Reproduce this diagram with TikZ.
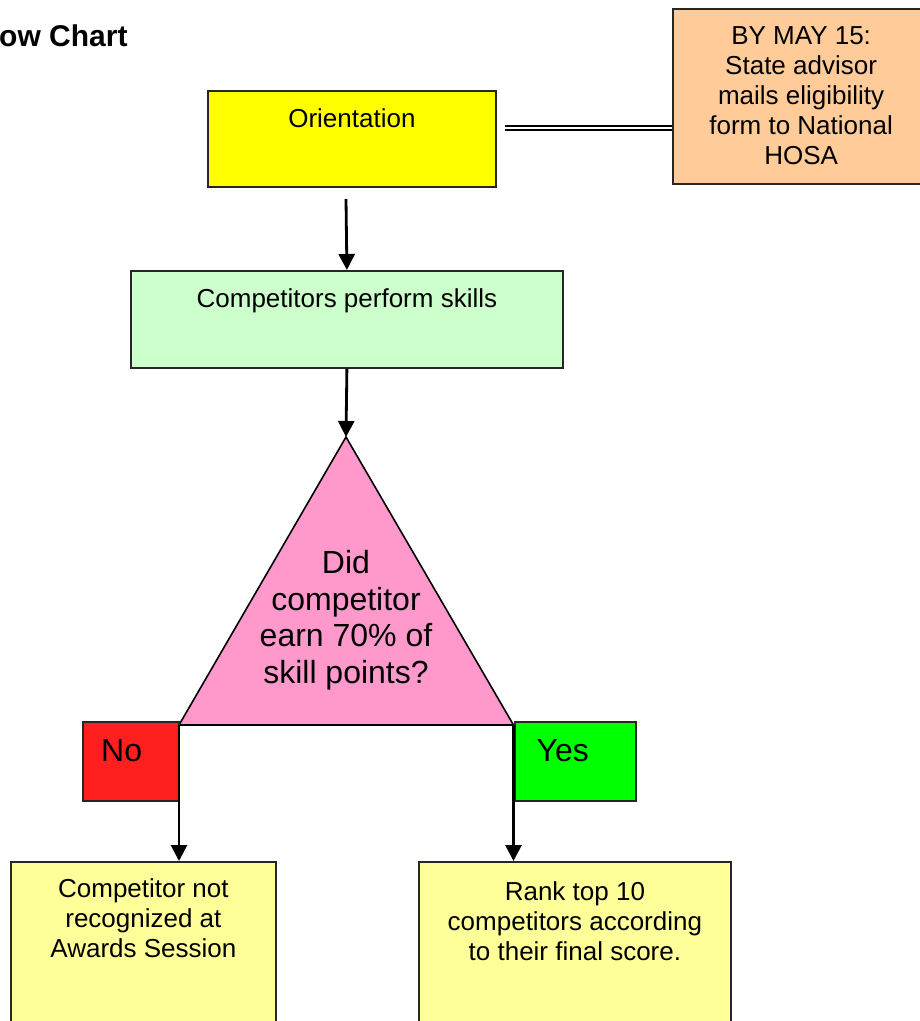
\documentclass[tikz,border=0pt]{standalone}
\usepackage{fontspec}
\setmainfont{Liberation Sans}
\usetikzlibrary{arrows.meta,positioning}
\definecolor{orientCol}{HTML}{FFFF00}
\definecolor{dateCol}{HTML}{FFCC99}
\definecolor{skillCol}{HTML}{CCFFCC}
\definecolor{askCol}{HTML}{FF99CC}
\definecolor{noCol}{HTML}{FF1F1F}
\definecolor{yesCol}{HTML}{00FF00}
\definecolor{endCol}{HTML}{FFFF99}
\newcommand{\txtfont}{\fontsize{26}{30}\selectfont}
\newcommand{\askfont}{\fontsize{32}{36.5}\selectfont}
\tikzset{
  box/.style={draw=black!85, line width=1.8pt, inner sep=0pt, anchor=north west},
  boxtxt/.style={anchor=north, inner sep=0pt, align=center, font=\txtfont, yshift=-#1},
  flagtxt/.style={anchor=north west, inner sep=0pt, font=\askfont, xshift=#1, yshift=-18pt},
  flow/.style={-{Triangle[length=16pt,width=16pt]}, line width=2.8pt},
  link/.style={double=white, double distance=2pt, line width=2.2pt},
}

\begin{document}
\begin{tikzpicture}[x=1pt,y=-1pt]
  \clip (0,0) rectangle (920,1021);
  \node[anchor=base west, inner sep=0pt, font=\fontsize{30}{34}\selectfont\bfseries] (title) at (-1,46.5) {ow Chart};

  % top row
  \node[box, fill=orientCol, minimum width=288pt, minimum height=96pt,
        label={[boxtxt=18pt]north:Orientation}] (orient) at (207,90) {};
  \node[box, fill=dateCol, line width=2.2pt, minimum width=256pt, minimum height=175pt,
        label={[boxtxt=18.5pt]north:{BY MAY 15:\\State advisor\\mails eligibility\\form to National\\HOSA}}] (deadline) at (672,8) {};
  \coordinate (lk) at (505,128);
  \draw[link] (lk) -- (lk -| deadline.west);

  \node[box, fill=skillCol, minimum width=432pt, minimum height=97pt,
        label={[boxtxt=18.5pt]north:Competitors perform skills}] (skills) at (130,270) {};
  \coordinate (o1) at (346,199);
  \draw[flow] (o1) -- (skills.north);

  % decision
  \coordinate (apex) at (346,437);
  \coordinate (bl) at (179,725);
  \coordinate (br) at (513.5,725);
  \draw[fill=askCol, line width=1.6pt, line join=miter] (apex) -- (br) -- (bl) -- cycle;
  \node[anchor=north, inner sep=0pt, align=center, font=\askfont] (ask) at (346,550.5)
    {Did\\competitor\\earn 70\% of\\skill points?};
  \draw[flow] (skills.south) -- (apex);

  % answers
  \node[box, fill=noCol, minimum width=96pt, minimum height=79pt,
        label={[flagtxt=19pt]north west:No}] (no) at (82,721) {};
  \node[box, fill=yesCol, minimum width=121pt, minimum height=79pt,
        label={[flagtxt=22.5pt]north west:Yes}] (yes) at (514,721) {};

  \node[box, fill=endCol, minimum width=265pt, minimum height=180pt,
        label={[boxtxt=17pt]north:Competitor not\\recognized at\\Awards Session}] (notrec) at (10,861) {};
  \node[box, fill=endCol, minimum width=312pt, minimum height=180pt,
        label={[boxtxt=20pt]north:Rank top 10\\competitors according\\to their final score.}] (rank) at (418,861) {};

  \draw[flow] (bl) -- (bl |- notrec.north);
  \draw[flow] (br) -- (br |- rank.north);
\end{tikzpicture}
\end{document}
